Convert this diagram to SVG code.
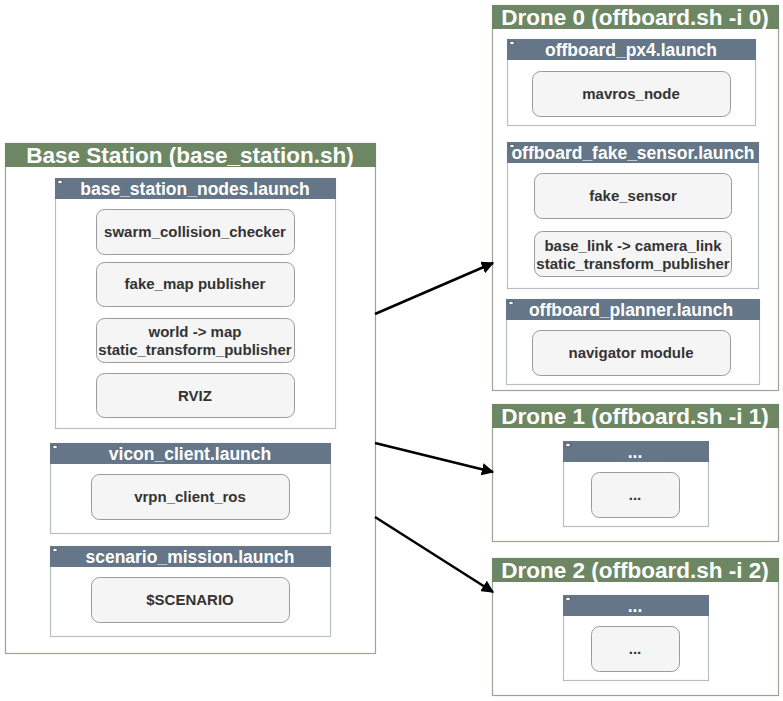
<svg xmlns="http://www.w3.org/2000/svg" width="783" height="701" viewBox="0 0 783 701">
<style>
.outer{fill:#fff;stroke:#9aa594;stroke-width:1.2}
.ohead{fill:#6d8764}
.otxt{font-family:"Liberation Sans",Arial,sans-serif;font-weight:bold;font-size:22.5px;fill:#fff;text-anchor:middle}
.launch{fill:#fff;stroke:#b9bec4;stroke-width:1.2}
.lhead{fill:#647687}
.ltxt{font-family:"Liberation Sans",Arial,sans-serif;font-weight:bold;font-size:17.5px;fill:#fff;text-anchor:middle}
.icon{fill:#fff;stroke:#444;stroke-width:0.6}
.node{fill:#f5f5f5;stroke:#9a9a9a;stroke-width:1}
.ntxt{font-family:"Liberation Sans",Arial,sans-serif;font-weight:bold;font-size:15px;fill:#333;text-anchor:middle}
.conn{stroke:#000;stroke-width:2.5;fill:none;marker-end:url(#arr)}
</style>
<defs>
<marker id="arr" viewBox="0 0 10 10" refX="9" refY="5" markerWidth="5" markerHeight="5" orient="auto" markerUnits="strokeWidth">
<path d="M0,0 L10,5 L0,10 Z" fill="#000"/>
</marker>
</defs>
<rect width="783" height="701" fill="#fff"/>

<g id="base_station">
<rect class="outer" x="5.5" y="143.5" width="370" height="510"/>
<rect class="ohead" x="5" y="143" width="371" height="24"/>
<text class="otxt" x="190" y="163">Base Station (base_station.sh)</text>
</g>
<g id="base_station_nodes">
<rect class="launch" x="55.5" y="178.5" width="280" height="250"/>
<rect class="lhead" x="55" y="178" width="281" height="21"/>
<rect class="icon" x="58" y="180.5" width="4" height="3"/>
<text class="ltxt" x="195" y="195">base_station_nodes.launch</text>
</g>
<g id="swarm_collision_checker">
<rect class="node" x="96.5" y="209.5" width="198" height="45" rx="8"/>
<text class="ntxt" x="195" y="237">swarm_collision_checker</text>
</g>
<g id="fake_map_publisher">
<rect class="node" x="96.5" y="262.5" width="198" height="44" rx="8"/>
<text class="ntxt" x="195" y="289">fake_map publisher</text>
</g>
<g id="world_map_tf">
<rect class="node" x="96.5" y="318.5" width="198" height="44" rx="8"/>
<text class="ntxt" x="195" y="337">world -&gt; map</text>
<text class="ntxt" x="195" y="355">static_transform_publisher</text>
</g>
<g id="rviz">
<rect class="node" x="96.5" y="373.5" width="198" height="44" rx="8"/>
<text class="ntxt" x="195" y="401">RVIZ</text>
</g>
<g id="vicon_client">
<rect class="launch" x="50.5" y="443.5" width="280" height="90"/>
<rect class="lhead" x="50" y="443" width="281" height="21"/>
<rect class="icon" x="53" y="445.5" width="4" height="3"/>
<text class="ltxt" x="190" y="460">vicon_client.launch</text>
</g>
<g id="vrpn_client_ros">
<rect class="node" x="91.5" y="474.5" width="198" height="45" rx="8"/>
<text class="ntxt" x="190" y="502">vrpn_client_ros</text>
</g>
<g id="scenario_mission">
<rect class="launch" x="50.5" y="546.5" width="280" height="90"/>
<rect class="lhead" x="50" y="546" width="281" height="21"/>
<rect class="icon" x="53" y="548.5" width="4" height="3"/>
<text class="ltxt" x="190" y="563">scenario_mission.launch</text>
</g>
<g id="scenario">
<rect class="node" x="91.5" y="577.5" width="198" height="45" rx="8"/>
<text class="ntxt" x="190" y="605">$SCENARIO</text>
</g>

<g id="drone0">
<rect class="outer" x="492.5" y="5.5" width="286" height="385"/>
<rect class="ohead" x="492" y="5" width="287" height="24"/>
<text class="otxt" x="635" y="25">Drone 0 (offboard.sh -i 0)</text>
</g>
<g id="offboard_px4">
<rect class="launch" x="507.5" y="39.5" width="248" height="86"/>
<rect class="lhead" x="507" y="39" width="249" height="21"/>
<rect class="icon" x="510" y="41.5" width="4" height="3"/>
<text class="ltxt" x="631" y="56">offboard_px4.launch</text>
</g>
<g id="mavros_node">
<rect class="node" x="532.5" y="71.5" width="198" height="45" rx="8"/>
<text class="ntxt" x="631" y="99">mavros_node</text>
</g>
<g id="offboard_fake_sensor">
<rect class="launch" x="507.5" y="142.5" width="251" height="146"/>
<rect class="lhead" x="507" y="142" width="252" height="21"/>
<rect class="icon" x="510" y="144.5" width="4" height="3"/>
<text class="ltxt" x="633" y="159">offboard_fake_sensor.launch</text>
</g>
<g id="fake_sensor">
<rect class="node" x="534.5" y="173.5" width="197" height="45" rx="8"/>
<text class="ntxt" x="633" y="201">fake_sensor</text>
</g>
<g id="base_link_tf">
<rect class="node" x="534.5" y="231.5" width="197" height="45" rx="8"/>
<text class="ntxt" x="633" y="251">base_link -&gt; camera_link</text>
<text class="ntxt" x="633" y="269">static_transform_publisher</text>
</g>
<g id="offboard_planner">
<rect class="launch" x="506.5" y="299.5" width="253" height="85"/>
<rect class="lhead" x="506" y="299" width="254" height="21"/>
<rect class="icon" x="509" y="301.5" width="4" height="3"/>
<text class="ltxt" x="631" y="316">offboard_planner.launch</text>
</g>
<g id="navigator_module">
<rect class="node" x="532.5" y="330.5" width="198" height="45" rx="8"/>
<text class="ntxt" x="631" y="358">navigator module</text>
</g>

<g id="drone1">
<rect class="outer" x="492.5" y="404.5" width="286" height="137"/>
<rect class="ohead" x="492" y="404" width="287" height="24"/>
<text class="otxt" x="635" y="424">Drone 1 (offboard.sh -i 1)</text>
</g>
<g id="drone1_launch">
<rect class="launch" x="563.5" y="441.5" width="145" height="85"/>
<rect class="lhead" x="563" y="441" width="146" height="21"/>
<rect class="icon" x="566" y="443.5" width="4" height="3"/>
<text class="ltxt" x="635" y="458">...</text>
</g>
<g id="drone1_node">
<rect class="node" x="591.5" y="472.5" width="88" height="45" rx="8"/>
<text class="ntxt" x="635" y="500">...</text>
</g>

<g id="drone2">
<rect class="outer" x="492.5" y="558.5" width="286" height="137"/>
<rect class="ohead" x="492" y="558" width="287" height="24"/>
<text class="otxt" x="635" y="578">Drone 2 (offboard.sh -i 2)</text>
</g>
<g id="drone2_launch">
<rect class="launch" x="563.5" y="595.5" width="145" height="85"/>
<rect class="lhead" x="563" y="595" width="146" height="21"/>
<rect class="icon" x="566" y="597.5" width="4" height="3"/>
<text class="ltxt" x="635" y="612">...</text>
</g>
<g id="drone2_node">
<rect class="node" x="591.5" y="626.5" width="88" height="45" rx="8"/>
<text class="ntxt" x="635" y="654">...</text>
</g>

<g id="connectors">
<line class="conn" x1="375" y1="314" x2="493" y2="263"/>
<line class="conn" x1="375" y1="443" x2="493" y2="472"/>
<line class="conn" x1="375" y1="517" x2="493" y2="592"/>
</g>
</svg>
